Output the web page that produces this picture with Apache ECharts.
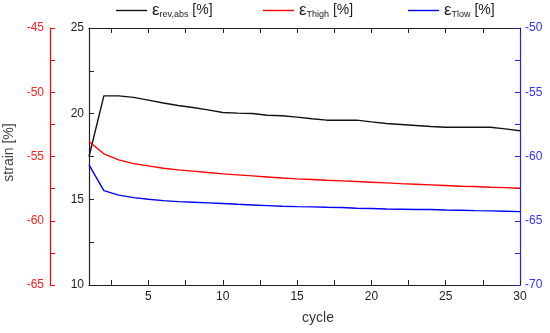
<!DOCTYPE html>
<html>
<head>
<meta charset="utf-8">
<script src="https://cdn.jsdelivr.net/npm/echarts@6/dist/echarts.min.js"></script>
<style>html,body{margin:0;padding:0;background:#fff;}#c{width:550px;height:333px;}</style>
</head>
<body>
<div id="c"></div>
<script>
var cycles = [1,2,3,4,5,6,7,8,9,10,11,12,13,14,15,16,17,18,19,20,21,22,23,24,25,26,27,28,29,30];
var revAbs = [17.5,21.04,21.04,20.95,20.79,20.62,20.48,20.36,20.22,20.07,20.03,20.01,19.91,19.88,19.80,19.70,19.62,19.62,19.62,19.52,19.43,19.37,19.31,19.25,19.21,19.21,19.21,19.21,19.11,19.0];
var tHigh = [-53.83,-54.79,-55.26,-55.55,-55.73,-55.91,-56.04,-56.14,-56.25,-56.35,-56.43,-56.51,-56.59,-56.67,-56.74,-56.79,-56.85,-56.90,-56.95,-57.0,-57.05,-57.11,-57.16,-57.21,-57.26,-57.31,-57.34,-57.39,-57.42,-57.47];
var tLow = [-60.65,-62.65,-63.01,-63.20,-63.33,-63.43,-63.51,-63.56,-63.61,-63.66,-63.72,-63.77,-63.82,-63.87,-63.90,-63.92,-63.95,-63.97,-64.03,-64.05,-64.08,-64.10,-64.13,-64.13,-64.16,-64.18,-64.21,-64.23,-64.26,-64.29];
var xTicks = [2.5,5,7.5,10,12.5,15,17.5,20,22.5,25,27.5,30];
var xLabels = [5,10,15,20,25,30];
var seriesNames = ['rev', 'high', 'low'];
var seriesSubs = {rev: 'rev,abs', high: 'Thigh', low: 'Tlow'};

function pair(xs, ys) { return xs.map(function (x, i) { return [x, ys[i]]; }); }
function fiveOnly(v) { return (Math.abs(v % 5) < 1e-9) ? String(v) : ''; }

var FONT = 'Liberation Sans, Arial, sans-serif';
var chart = echarts.init(document.getElementById('c'), null, {renderer: 'canvas'});

function legendFor(name, left) {
  return {
    data: [name], left: left, top: 2, itemWidth: 31, itemHeight: 14, padding: 0,
    icon: 'path://M0,0 L31,0 L31,1.4 L0,1.4 Z',
    formatter: function (n) { return '{e|ε}{s|' + seriesSubs[n] + '}{t| [%]}'; },
    textStyle: {
      fontFamily: FONT, color: '#222',
      rich: {
        e: {fontSize: 17, fontFamily: FONT, color: '#222'},
        s: {fontSize: 9, fontFamily: FONT, color: '#222', padding: [9, 0, 0, 0]},
        t: {fontSize: 14, fontFamily: FONT, color: '#222'}
      }
    }
  };
}

chart.setOption({
  animation: false,
  backgroundColor: '#fff',
  grid: {left: 89, right: 30, top: 28, bottom: 48, containLabel: false, outerBoundsMode: 'none'},
  legend: [legendFor('rev', 116), legendFor('high', 263), legendFor('low', 408)],
  xAxis: [
    {
      type: 'value', min: 1, max: 30, position: 'bottom',
      axisLine: {show: true, onZero: false, lineStyle: {color: '#222', width: 1.2}},
      axisTick: {show: true, inside: true, length: 5, customValues: xTicks, lineStyle: {color: '#222', width: 1}},
      axisLabel: {show: true, customValues: xLabels, margin: 6, fontFamily: FONT, fontSize: 12, color: '#222'},
      splitLine: {show: false},
      name: 'cycle', nameLocation: 'middle', nameGap: 26,
      nameTextStyle: {fontFamily: FONT, fontSize: 14, color: '#333', padding: [0, 0, 0, 27]}
    },
    {
      type: 'value', min: 1, max: 30, position: 'top',
      axisLine: {show: true, onZero: false, lineStyle: {color: '#222', width: 1.2}},
      axisTick: {show: true, inside: true, length: 5, customValues: xTicks, lineStyle: {color: '#222', width: 1}},
      axisLabel: {show: true, customValues: xLabels, color: 'rgba(0,0,0,0)'},
      splitLine: {show: false}
    }
  ],
  yAxis: [
    {
      type: 'value', position: 'left', min: 10, max: 25, interval: 2.5,
      axisLine: {show: true, lineStyle: {color: '#222', width: 1.2}},
      axisTick: {show: true, inside: true, length: 5, lineStyle: {color: '#222'}},
      axisLabel: {formatter: fiveOnly, margin: 5, fontFamily: FONT, fontSize: 12, color: '#222'},
      splitLine: {show: false}
    },
    {
      type: 'value', position: 'left', offset: 39, min: -65, max: -45, interval: 2.5,
      name: 'strain [%]', nameLocation: 'middle', nameGap: 27, nameRotate: 90,
      nameTextStyle: {fontFamily: FONT, fontSize: 14, color: '#444', padding: [0, 0, 0, 8]},
      axisLine: {show: true, lineStyle: {color: '#ff0000', width: 1.2}},
      axisTick: {show: true, inside: true, length: 5, lineStyle: {color: '#ff0000'}},
      axisLabel: {formatter: fiveOnly, margin: 6, fontFamily: FONT, fontSize: 12, color: '#ff2020'},
      splitLine: {show: false}
    },
    {
      type: 'value', position: 'right', min: -70, max: -50, interval: 2.5,
      axisLine: {show: true, lineStyle: {color: '#2020ff', width: 1.2}},
      axisTick: {show: true, inside: true, length: 5, lineStyle: {color: '#2020ff'}},
      axisLabel: {formatter: fiveOnly, margin: 5, fontFamily: FONT, fontSize: 12, color: '#3030ff'},
      splitLine: {show: false}
    }
  ],
  series: [
    {name: 'rev', type: 'line', xAxisIndex: 0, yAxisIndex: 0, data: pair(cycles, revAbs), showSymbol: false, symbol: 'none',
     lineStyle: {color: '#111', width: 1.4}, itemStyle: {color: '#111'}},
    {name: 'high', type: 'line', xAxisIndex: 0, yAxisIndex: 1, data: pair(cycles, tHigh), showSymbol: false, symbol: 'none',
     lineStyle: {color: '#ff0000', width: 1.4}, itemStyle: {color: '#ff0000'}},
    {name: 'low', type: 'line', xAxisIndex: 0, yAxisIndex: 2, data: pair(cycles, tLow), showSymbol: false, symbol: 'none',
     lineStyle: {color: '#0000ff', width: 1.4}, itemStyle: {color: '#0000ff'}}
  ]
});
</script>
</body>
</html>
